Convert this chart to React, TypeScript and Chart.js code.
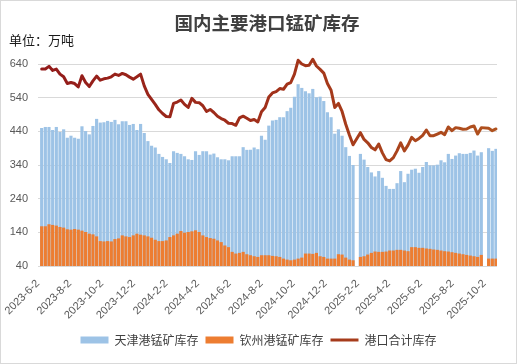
import React, { useEffect, useRef } from 'react';
import { Chart, registerables } from 'chart.js';

Chart.register(...registerables);

// weekly report dates (2025-1-31 and 2025-10-3 missing: holidays)
const dates = [
  '2023-6-9','2023-6-16','2023-6-23','2023-6-30','2023-7-7','2023-7-14','2023-7-21','2023-7-28','2023-8-4','2023-8-11',
  '2023-8-18','2023-8-25','2023-9-1','2023-9-8','2023-9-15','2023-9-22','2023-9-29','2023-10-6','2023-10-13','2023-10-20',
  '2023-10-27','2023-11-3','2023-11-10','2023-11-17','2023-11-24','2023-12-1','2023-12-8','2023-12-15','2023-12-22','2023-12-29',
  '2024-1-5','2024-1-12','2024-1-19','2024-1-26','2024-2-2','2024-2-9','2024-2-16','2024-2-23','2024-3-1','2024-3-8',
  '2024-3-15','2024-3-22','2024-3-29','2024-4-5','2024-4-12','2024-4-19','2024-4-26','2024-5-3','2024-5-10','2024-5-17',
  '2024-5-24','2024-5-31','2024-6-7','2024-6-14','2024-6-21','2024-6-28','2024-7-5','2024-7-12','2024-7-19','2024-7-26',
  '2024-8-2','2024-8-9','2024-8-16','2024-8-23','2024-8-30','2024-9-6','2024-9-13','2024-9-20','2024-9-27','2024-10-4',
  '2024-10-11','2024-10-18','2024-10-25','2024-11-1','2024-11-8','2024-11-15','2024-11-22','2024-11-29','2024-12-6','2024-12-13',
  '2024-12-20','2024-12-27','2025-1-3','2025-1-10','2025-1-17','2025-1-24','2025-2-7','2025-2-14','2025-2-21','2025-2-28',
  '2025-3-7','2025-3-14','2025-3-21','2025-3-28','2025-4-4','2025-4-11','2025-4-18','2025-4-25','2025-5-2','2025-5-9',
  '2025-5-16','2025-5-23','2025-5-30','2025-6-6','2025-6-13','2025-6-20','2025-6-27','2025-7-4','2025-7-11','2025-7-18',
  '2025-7-25','2025-8-1','2025-8-8','2025-8-15','2025-8-22','2025-8-29','2025-9-5','2025-9-12','2025-9-19','2025-9-26',
  '2025-10-10','2025-10-17','2025-10-24',
];

const tianjin = [
  449, 452, 452, 443, 452, 437, 445, 420, 426, 420, 417, 454, 440, 430, 455, 476, 465, 466, 470, 467, 473, 460, 469, 469,
  458, 461, 443, 461, 434, 410, 396, 391, 372, 363, 356, 345, 380, 375, 372, 365, 356, 354, 380, 369, 380, 380, 370, 373, 362, 356,
  356, 353, 365, 365, 365, 392, 384, 384, 391, 386, 426, 414, 456, 471, 473, 481, 481, 499, 509, 542, 579, 568, 558, 552, 565,
  540, 542, 529, 496, 481, 432, 445, 426, 392, 366, 339,
  372, 355, 333, 317, 305, 321, 301, 277, 268, 268, 285, 321, 288,
  313, 325, 328, 316, 333, 348, 338, 338, 340, 353, 347, 372, 357, 367, 374, 372, 372, 375, 382, 367, 377,
  389, 381, 387,
];

const qinzhou = [
  157, 157, 163, 161, 159, 155, 153, 148, 147, 149, 147, 144, 140, 135, 133, 127, 113, 112, 113, 112, 119, 121, 130, 127,
  125, 130, 135, 132, 130, 127, 123, 117, 113, 113, 115, 125, 130, 135, 143, 138, 140, 142, 145, 140, 130, 125, 122, 120, 115, 110,
  100, 95, 81, 76, 78, 81, 74, 71, 68, 66, 71, 71, 71, 69, 68, 66, 61, 58, 56, 58, 61, 64, 76, 76, 75,
  78, 68, 66, 61, 61, 61, 74, 73, 64, 58, 56,
  66, 68, 73, 78, 82, 81, 81, 82, 85, 85, 87, 87, 85,
  83, 95, 95, 93, 93, 91, 90, 88, 87, 85, 83, 82, 80, 78, 76, 74, 72, 70, 68, 66, 72,
  61, 61, 61,
];

const total = [
  625, 625, 633, 621, 625, 610, 602, 582, 585, 582, 572, 605, 585, 573, 590, 604, 592, 596, 598, 602, 610, 606, 612, 608,
  601, 595, 602, 610, 575, 550, 535, 520, 504, 493, 484, 483, 523, 527, 533, 520, 511, 538, 526, 525, 516, 499, 505, 496, 485, 478,
  473, 464, 463, 458, 480, 485, 479, 472, 475, 468, 498, 511, 542, 554, 558, 567, 565, 580, 585, 610, 651, 640, 635, 636, 654,
  634, 624, 613, 582, 562, 511, 523, 499, 461, 429, 400,
  436, 416, 406, 392, 385, 402, 376, 356, 352, 362, 382, 406, 382,
  399, 422, 412, 419, 428, 444, 427, 427, 432, 437, 430, 453, 442, 451, 449, 446, 447, 453, 456, 432, 451,
  449, 442, 447,
];

const tickLabels = [
  '2023-6-2','2023-8-2','2023-10-2','2023-12-2','2024-2-2','2024-4-2','2024-6-2','2024-8-2',
  '2024-10-2','2024-12-2','2025-2-2','2025-4-2','2025-6-2','2025-8-2','2025-10-2',
];

const yTicks = [40, 140, 240, 340, 440, 540, 640];

const axisStart = '2023-6-2';
const axisEnd = '2025-10-26';

function dayNum(s: string): number {
  const [y, m, d] = s.split('-').map(Number);
  const [y0, m0, d0] = axisStart.split('-').map(Number);
  return (Date.UTC(y, m - 1, d) - Date.UTC(y0, m0 - 1, d0)) / 86400000;
}

const legendShift = {
  id: 'legendShift',
  afterLayout(chart: any) {
    const l = chart.legend;
    if (l) {
      l.left = 0;
      l.right = chart.width;
    }
  },
};

export default function App() {
  const ref = useRef<HTMLCanvasElement>(null);

  useEffect(() => {
    const xs = dates.map(dayNum);
    const lineColor = (ctx: any) => {
      const chart = ctx.chart;
      const area = chart.chartArea;
      if (!area) return '#9a1c1c';
      const g = chart.ctx.createLinearGradient(area.left, 0, area.right, 0);
      g.addColorStop(0, '#921a1a');
      g.addColorStop(0.5, '#a1301a');
      g.addColorStop(1, '#b0521e');
      return g;
    };
    const chart = new Chart(ref.current as HTMLCanvasElement, {
      type: 'bar',
      data: {
        datasets: [
          {
            type: 'bar',
            label: '天津港锰矿库存',
            data: xs.map((x, i) => ({ x, y: tianjin[i] })),
            backgroundColor: '#9DC3E6',
            grouped: false,
            barThickness: 2.5,
            order: 3,
            pointStyle: 'rect',
          } as any,
          {
            type: 'bar',
            label: '钦州港锰矿库存',
            data: xs.map((x, i) => ({ x, y: qinzhou[i] })),
            backgroundColor: '#ED7D31',
            grouped: false,
            barThickness: 2.5,
            order: 2,
            pointStyle: 'rect',
          } as any,
          {
            type: 'line',
            label: '港口合计库存',
            data: xs.map((x, i) => ({ x, y: total[i] })),
            borderColor: lineColor,
            backgroundColor: lineColor,
            borderWidth: 3,
            borderJoinStyle: 'round',
            borderCapStyle: 'round',
            pointRadius: 0,
            tension: 0,
            order: 1,
            pointStyle: 'line',
            clip: false,
          } as any,
        ],
      },
      options: {
        responsive: false,
        animation: false,
        devicePixelRatio: 1,
        layout: { padding: { top: 64, left: 0, right: 20, bottom: 8 } },
        plugins: {
          legend: {
            position: 'bottom',
            labels: {
              usePointStyle: true,
              pointStyleWidth: 28,
              boxHeight: 7,
              padding: 7,
              color: '#404040',
              font: { family: '"Noto Sans CJK SC"', size: 12 },
              sort: (a: any, b: any) => a.datasetIndex - b.datasetIndex,
            },
          },
          title: { display: false },
          tooltip: { enabled: false },
        },
        scales: {
          x: {
            type: 'linear',
            min: 0,
            max: dayNum(axisEnd),
            offset: false,
            grid: { display: false },
            border: { display: false },
            afterBuildTicks: (s: any) => {
              s.ticks = tickLabels.map((t) => ({ value: dayNum(t) }));
            },
            afterFit: (s: any) => {
              s.height = 61;
            },
            ticks: {
              autoSkip: false,
              maxRotation: 45,
              minRotation: 45,
              padding: 3,
              color: '#595959',
              font: { family: '"Liberation Sans"', size: 11 },
              callback: (_v: any, i: number) => tickLabels[i],
            },
          },
          y: {
            min: 40,
            max: 640,
            afterBuildTicks: (s: any) => {
              s.ticks = yTicks.map((v) => ({ value: v }));
            },
            afterFit: (s: any) => {
              s.width = 38;
            },
            grid: { color: '#d9d9d9', drawTicks: false, lineWidth: 1 },
            border: { display: false },
            ticks: {
              padding: 10,
              color: '#595959',
              font: { family: '"Liberation Sans"', size: 11 },
            },
          },
        },
      } as any,
      plugins: [legendShift],
    });
    return () => chart.destroy();
  }, []);

  return (
    <div style={{ position: 'fixed', left: 0, top: 0, width: 517, height: 364, background: '#fff', overflow: 'hidden' }}>
      <canvas ref={ref} width={517} height={364} style={{ position: 'absolute', left: 0, top: 0, width: 517, height: 364 }} />
      <div
        style={{
          position: 'absolute', left: 17, top: 10, width: 500, height: 24, lineHeight: '24px', textAlign: 'center',
          fontFamily: '"Noto Sans CJK SC"', fontWeight: 700, fontSize: 18.5, color: '#404040', whiteSpace: 'nowrap',
        }}
      >
        国内主要港口锰矿库存
      </div>
      <div
        style={{
          position: 'absolute', left: 9, top: 32, height: 16, lineHeight: '16px',
          fontFamily: '"Noto Sans CJK SC"', fontSize: 13, color: '#1a1a1a', whiteSpace: 'nowrap',
        }}
      >
        单位：万吨
      </div>
      <div
        style={{
          position: 'absolute', left: 0, top: 0, width: 517, height: 364, boxSizing: 'border-box',
          border: '1px solid #d9d9d9', pointerEvents: 'none',
        }}
      />
    </div>
  );
}
